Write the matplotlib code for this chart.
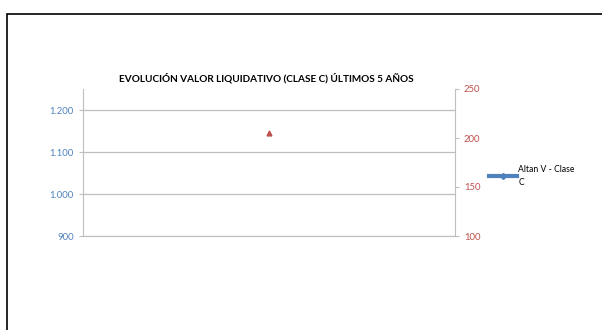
import matplotlib.pyplot as plt
import matplotlib.ticker as mticker
from matplotlib.patches import Rectangle
import numpy as np

plt.rcParams['font.family'] = ['Lato', 'DejaVu Sans']

# data
categories = ['']
clase_c = [np.nan]          # Altan V - Clase C (no values shown)
second_series = [205]       # red triangle on the right axis
left_ticks = [900, 1000, 1100, 1200]
right_ticks = [100, 150, 200, 250]

blue = '#4F81BD'
red = '#C0504D'
grid_c = '#BFBFBF'

fig = plt.figure(figsize=(6.02, 3.3), dpi=100)

# chart frame (extends off the right and bottom edges)
fig.patches.append(Rectangle((7 / 602, -0.1), 1.0, (330 - 14) / 330 + 0.1,
                             transform=fig.transFigure, fill=False,
                             edgecolor='black', linewidth=1.2))

ax = fig.add_axes([83 / 602, 94 / 330, 372 / 602, 147 / 330])
x = np.arange(len(categories))
ax.plot(x, clase_c, color=blue, linewidth=3, marker='D', markersize=3,
        label='Altan V - Clase\nC')
ax.set_xlim(-0.5, 0.5)
ax.set_ylim(900, 1250)
ax.set_yticks(left_ticks)
ax.yaxis.set_major_formatter(mticker.FuncFormatter(lambda v, p: f'{int(v):,}'.replace(',', '.')))
ax.tick_params(axis='y', colors=grid_c, labelcolor=blue, labelsize=6.8, length=3, width=0.8)
ax.set_xticks([])
ax.grid(axis='y', color=grid_c, linewidth=0.9)
for s in ['top', 'right']:
    ax.spines[s].set_visible(False)
ax.spines['left'].set_color(grid_c)
ax.spines['bottom'].set_color(grid_c)

ax2 = ax.twinx()
ax2.plot(x, second_series, linestyle='none', marker='^', color=red, markersize=3.5)
ax2.set_ylim(100, 250)
ax2.set_yticks(right_ticks)
ax2.tick_params(axis='y', colors=grid_c, labelcolor=red, labelsize=6.8, length=3, width=0.8)
for s in ['top', 'left', 'bottom']:
    ax2.spines[s].set_visible(False)
ax2.spines['right'].set_color(grid_c)

fig.text(266 / 602, 1 - 78 / 330, 'EVOLUCIÓN VALOR LIQUIDATIVO (CLASE C) ÚLTIMOS 5 AÑOS',
         ha='center', va='center', fontsize=7.2, fontweight='bold')

leg = ax.legend(loc='center left', bbox_to_anchor=(489 / 602, 1 - 176 / 330),
                bbox_transform=fig.transFigure, frameon=False, fontsize=6.2,
                handlelength=3.3, handletextpad=0.1, borderpad=0, borderaxespad=0)
for t in leg.get_texts():
    t.set_linespacing(1.5)

fig.savefig('out.png', dpi=100)
